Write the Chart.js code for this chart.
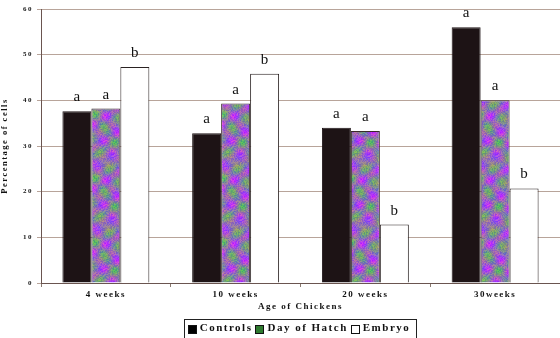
<!DOCTYPE html>
<html>
<head>
<meta charset="utf-8">
<script src="https://cdn.jsdelivr.net/npm/chart.js@4"></script>
<style>
  html, body { margin: 0; padding: 0; background: #fff; }
  #wrap { width: 560px; height: 338px; }
</style>
</head>
<body>
<div id="wrap"><canvas id="chart" width="560" height="338"></canvas></div>
<script>
// chart values
const ages = ['4 weeks', '10 weeks', '20 weeks', '30weeks'];
const controls = [37.6, 32.8, 34.0, 56.0];
const dayOfHatch = [38.2, 39.3, 33.3, 40.0];
const embryo = [47.3, 45.8, 12.8, 20.7];
const controlLetters = ['a', 'a', 'a', 'a'];
const hatchLetters = ['a', 'a', 'a', 'a'];
const embryoLetters = ['b', 'b', 'b', 'b'];
const yTicks = [0, 10, 20, 30, 40, 50, 60];
const legendSwatches = ['#000000', '#2f7a2f', '#ffffff'];

// blotchy multicoloured fill used for the Day of Hatch bars
function makeSpeckle() {
  const n = 64;
  const c = document.createElement('canvas');
  c.width = n; c.height = n;
  const g = c.getContext('2d');
  const img = g.createImageData(n, n);
  const tau = Math.PI * 2 / n;
  for (let y = 0; y < n; y++) {
    for (let x = 0; x < n; x++) {
      const h1 = (Math.sin(tau * (2 * x + 3 * y)) + Math.cos(tau * (3 * x - 2 * y) + 0.7)) / 2;
      const h2 = (Math.sin(tau * (4 * x - 3 * y) + 1.3) + Math.cos(tau * (3 * x + 5 * y) + 0.4)) / 2;
      const grain = (Math.abs(Math.sin(x * 12.9898 + y * 78.233) * 43758.5453) % 1) - 0.5;
      // green patches against a purple / blue / pink ground
      let r = 145 - h1 * 35 + h2 * 30;
      let gg = 115 + h1 * 60 - h2 * 15;
      let b = 175 - h1 * 75 + h2 * 5;
      r += grain * 50; gg += grain * 45; b -= grain * 35;
      const i = (y * n + x) * 4;
      img.data[i] = Math.max(0, Math.min(255, r));
      img.data[i + 1] = Math.max(0, Math.min(255, gg));
      img.data[i + 2] = Math.max(0, Math.min(255, b));
      img.data[i + 3] = 255;
    }
  }
  g.putImageData(img, 0, 0);
  return document.getElementById('chart').getContext('2d').createPattern(c, 'repeat');
}

const serif = "'Liberation Serif', 'DejaVu Serif', serif";

const ctx = document.getElementById('chart').getContext('2d');

// wide letter spacing like the original figure
const spacing = {
  id: 'spacing',
  beforeLayout(chart) { chart.ctx.letterSpacing = '1.5px'; },
  beforeDraw(chart) { chart.ctx.letterSpacing = '1.5px'; }
};

const letterPlugin = {
  id: 'letters',
  afterDatasetsDraw(chart) {
    const c = chart.ctx;
    const sets = [controlLetters, hatchLetters, embryoLetters];
    c.save();
    c.letterSpacing = '0px';
    c.font = '15px ' + serif;
    c.fillStyle = '#111';
    c.textAlign = 'center';
    c.textBaseline = 'alphabetic';
    sets.forEach((letters, di) => {
      chart.getDatasetMeta(di).data.forEach((bar, i) => {
        c.fillText(letters[i], bar.x, bar.y - 10);
      });
    });
    c.restore();
  }
};

// boxed legend under the axis title
const boxedLegend = {
  id: 'boxedLegend',
  afterDraw(chart) {
    const c = chart.ctx;
    const area = chart.chartArea;
    c.save();
    c.letterSpacing = '1.5px';
    c.font = 'bold 11px ' + serif;
    c.textBaseline = 'middle';
    const sw = 9, gapAfterBox = 3, gapAfterText = 3;
    const items = chart.data.datasets.map((ds, i) => ({
      text: ds.label, fill: legendSwatches[i], w: c.measureText(ds.label).width
    }));
    const total = items.reduce((s, it) => s + sw + gapAfterBox + it.w + gapAfterText, 0);
    let x = (area.left + area.right) / 2 - total / 2;
    const top = area.bottom + 36;
    const mid = top + 9;
    c.strokeStyle = '#222';
    c.lineWidth = 1;
    c.strokeRect(Math.round(x - 4) + 0.5, top + 0.5, Math.round(total + 6), chart.height - top + 2);
    items.forEach(it => {
      c.fillStyle = it.fill;
      c.fillRect(Math.round(x), Math.round(mid - sw / 2 + 1), sw, sw);
      c.strokeStyle = '#111';
      c.strokeRect(Math.round(x) + 0.5, Math.round(mid - sw / 2 + 1) + 0.5, sw - 1, sw - 1);
      x += sw + gapAfterBox;
      c.fillStyle = '#111';
      c.fillText(it.text, x, mid);
      x += it.w + gapAfterText;
    });
    c.restore();
  }
};

new Chart(ctx, {
  type: 'bar',
  data: {
    labels: ages,
    datasets: [
      {
        label: 'Controls',
        data: controls,
        backgroundColor: '#1d1315',
        borderColor: '#1d1315',
        borderWidth: 1
      },
      {
        label: 'Day of Hatch',
        data: dayOfHatch,
        backgroundColor: makeSpeckle(),
        borderColor: '#3a2a2a',
        borderWidth: 1
      },
      {
        label: 'Embryo',
        data: embryo,
        backgroundColor: '#ffffff',
        borderColor: '#2a2222',
        borderWidth: 1
      }
    ]
  },
  options: {
    responsive: false,
    animation: false,
    layout: { padding: { top: 9, right: 0, left: 0, bottom: 0 } },
    datasets: {
      bar: { barPercentage: 1, categoryPercentage: 0.67 }
    },
    plugins: {
      tooltip: { enabled: false },
      legend: { display: false }
    },
    scales: {
      x: {
        grid: {
          drawOnChartArea: false,
          drawTicks: true,
          tickLength: 4,
          color: '#8a7a70',
          offset: true
        },
        border: { color: '#6a5550', width: 1 },
        ticks: {
          font: { family: serif, size: 9, weight: 'bold' },
          color: '#111',
          padding: 2
        },
        title: {
          display: true,
          text: 'Age of Chickens',
          font: { family: serif, size: 9, weight: 'bold' },
          color: '#111',
          padding: { top: 1, bottom: 26 }
        },
        afterFit(scale) { scale.height = 55; }
      },
      y: {
        min: 0,
        max: 60,
        afterBuildTicks(scale) { scale.ticks = yTicks.map(v => ({ value: v })); },
        grid: {
          color: '#b8a49a',
          lineWidth: 1,
          drawTicks: true,
          tickLength: 4
        },
        border: { color: '#6a5550', width: 1 },
        ticks: {
          font: { family: serif, size: 7, weight: 'bold' },
          color: '#111',
          padding: 4
        },
        title: {
          display: true,
          text: 'Percentage of cells',
          font: { family: serif, size: 8.5, weight: 'bold' },
          color: '#111',
          padding: { top: 0, bottom: 0 }
        },
        afterFit(scale) { scale.width = 41; }
      }
    }
  },
  plugins: [spacing, letterPlugin, boxedLegend]
});
</script>
</body>
</html>
